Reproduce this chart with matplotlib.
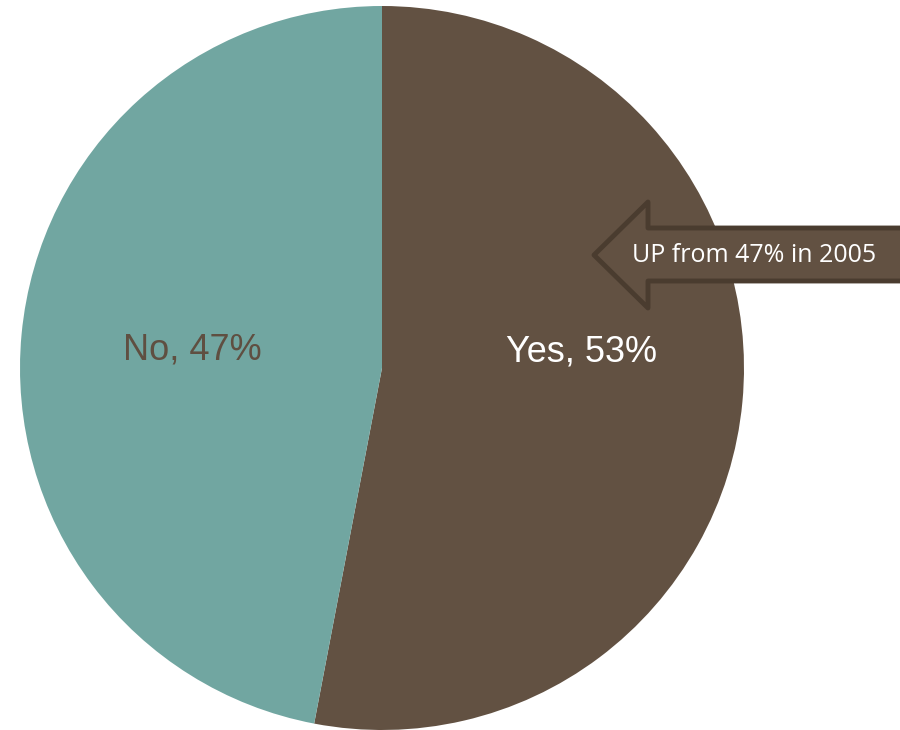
import matplotlib
matplotlib.use("Agg")
import matplotlib.pyplot as plt
from matplotlib.patches import Polygon

# survey answers
labels = ["Yes", "No"]
shares = [53, 47]
colors = ["#625142", "#71a6a1"]
label_colors = ["white", "#5f4f41"]
callout = "UP from 47% in 2005"

W, H = 900, 730
fig = plt.figure(figsize=(W / 100, H / 100), dpi=100)

# pie centred at (382, 368) px with radius 362 px
cx, cy, r = 382, 368, 362
ax = fig.add_axes([(cx - r) / W, (H - cy - r) / H, 2 * r / W, 2 * r / H])
wedges, _ = ax.pie(shares, colors=colors, startangle=90, counterclock=False,
                   radius=1.0, wedgeprops=dict(linewidth=0))
ax.set_xlim(-1, 1)
ax.set_ylim(-1, 1)
ax.set_aspect("equal")
ax.axis("off")

# slice labels
label_pos = [(0.552, 0.044), (-0.525, 0.05)]
for name, val, (x, y), c in zip(labels, shares, label_pos, label_colors):
    ax.text(x, y, f"{name}, {val}%", ha="center", va="center",
            fontsize=26, color=c, family="Liberation Sans")

# overlay in pixel coords for the callout arrow
ov = fig.add_axes([0, 0, 1, 1], facecolor="none")
ov.set_xlim(0, W)
ov.set_ylim(H, 0)
ov.axis("off")
arrow = [(594, 255), (648, 202), (648, 228), (910, 228),
         (910, 281), (648, 281), (648, 308)]
ov.add_patch(Polygon(arrow, closed=True, facecolor=colors[0],
                     edgecolor="#4a3c2f", linewidth=3.5, joinstyle="round"))
ov.text(754, 256, callout, ha="center", va="center", fontsize=18,
        color="white", family="Open Sans")

fig.savefig("out.png", dpi=100)
